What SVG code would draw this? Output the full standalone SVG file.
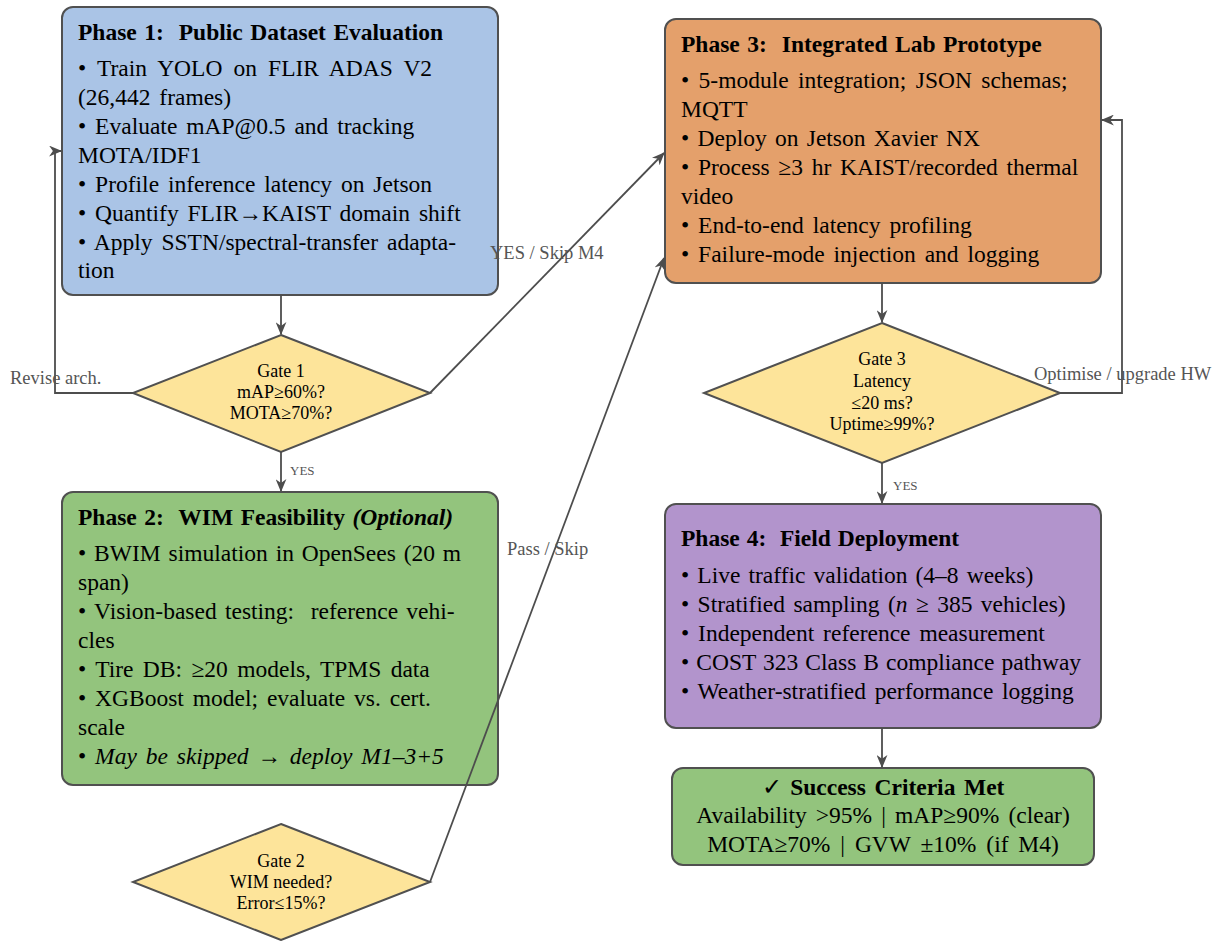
<svg xmlns="http://www.w3.org/2000/svg" width="1216" height="941" viewBox="0 0 1216 941">
<style>
.box{stroke:#505050;stroke-width:2}
.p1{fill:#aac4e6}.p2{fill:#93c47d}.p3{fill:#e4a06b}.p4{fill:#b294cc}.gate{fill:#fde49a;stroke:#505050;stroke-width:2}
text{font-family:"Liberation Serif","Times New Roman",serif;fill:#000}
.t{font-size:23.5px;font-weight:bold;word-spacing:1.6px}
.b{font-size:23.5px;word-spacing:3px}
.g{font-size:18px;text-anchor:middle}
.c{font-size:23.5px;text-anchor:middle;word-spacing:3.3px}
.lbl{font-size:18.5px;fill:#555}
.yes{font-size:13px;fill:#555}
.cn{fill:none;stroke:#4d4d4d;stroke-width:1.8}
</style>
<defs>
<marker id="ah" viewBox="0 0 12 10" refX="11" refY="5" markerWidth="13" markerHeight="11" markerUnits="userSpaceOnUse" orient="auto">
<path d="M0,0 L12,5 L0,10 L3.5,5 Z" fill="#4d4d4d"/>
</marker>
</defs>
<rect width="1216" height="941" fill="#fff"/>
<g id="phase1">
<rect class="box p1" x="62" y="7" width="436" height="288" rx="11"/>
<text class="t" x="78" y="40">Phase 1:&#160; Public Dataset Evaluation</text>
<text class="b" x="78" y="76" style="word-spacing:5.2px">• Train YOLO on FLIR ADAS V2</text>
<text class="b" x="78" y="105">(26,442 frames)</text>
<text class="b" x="78" y="134">• Evaluate mAP@0.5 and tracking</text>
<text class="b" x="78" y="163">MOTA/IDF1</text>
<text class="b" x="78" y="192">• Profile inference latency on Jetson</text>
<text class="b" x="78" y="221">• Quantify FLIR→KAIST domain shift</text>
<text class="b" x="78" y="250">• Apply SSTN/spectral-transfer adapta-</text>
<text class="b" x="78" y="278">tion</text>
</g>
<g id="gate1">
<polygon class="gate" points="281,335 430,393 281,452 133,393"/>
<text class="g" x="281" y="377">Gate 1</text>
<text class="g" x="281" y="398">mAP≥60%?</text>
<text class="g" x="281" y="419">MOTA≥70%?</text>
</g>
<g id="phase2">
<rect class="box p2" x="62" y="492" width="436" height="293" rx="11"/>
<text class="t" x="78" y="525">Phase 2:&#160; WIM Feasibility <tspan font-style="italic">(Optional)</tspan></text>
<text class="b" x="78" y="561" style="word-spacing:2px">• BWIM simulation in OpenSees (20 m</text>
<text class="b" x="78" y="590">span)</text>
<text class="b" x="78" y="619" style="word-spacing:2.4px">• Vision-based testing:&#160; reference vehi-</text>
<text class="b" x="78" y="648">cles</text>
<text class="b" x="78" y="677" style="word-spacing:3.5px">• Tire DB: ≥20 models, TPMS data</text>
<text class="b" x="78" y="706">• XGBoost model; evaluate vs. cert.</text>
<text class="b" x="78" y="735">scale</text>
<text class="b" x="78" y="764">• <tspan font-style="italic">May be skipped → deploy M1–3+5</tspan></text>
</g>
<g id="gate2">
<polygon class="gate" points="281,824 430,882 281,940 133,882"/>
<text class="g" x="281" y="867">Gate 2</text>
<text class="g" x="281" y="888">WIM needed?</text>
<text class="g" x="281" y="909">Error≤15%?</text>
</g>
<g id="phase3">
<rect class="box p3" x="665" y="19" width="436" height="264" rx="11"/>
<text class="t" x="681" y="52">Phase 3:&#160; Integrated Lab Prototype</text>
<text class="b" x="681" y="88" style="word-spacing:3.5px">• 5-module integration; JSON schemas;</text>
<text class="b" x="681" y="117">MQTT</text>
<text class="b" x="681" y="146" style="word-spacing:2.4px">• Deploy on Jetson Xavier NX</text>
<text class="b" x="681" y="175" style="word-spacing:2.8px">• Process ≥3 hr KAIST/recorded thermal</text>
<text class="b" x="681" y="204">video</text>
<text class="b" x="681" y="233">• End-to-end latency profiling</text>
<text class="b" x="681" y="262">• Failure-mode injection and logging</text>
</g>
<g id="gate3">
<polygon class="gate" points="882,323 1060,393 882,463 704,393"/>
<text class="g" x="882" y="365">Gate 3</text>
<text class="g" x="882" y="387">Latency</text>
<text class="g" x="882" y="409">≤20 ms?</text>
<text class="g" x="882" y="430">Uptime≥99%?</text>
</g>
<g id="phase4">
<rect class="box p4" x="665" y="504" width="436" height="224" rx="11"/>
<text class="t" x="681" y="546" style="word-spacing:1px">Phase 4:&#160; Field Deployment</text>
<text class="b" x="681" y="583" style="word-spacing:2.2px">• Live traffic validation (4–8 weeks)</text>
<text class="b" x="681" y="612" style="word-spacing:2.5px">• Stratified sampling (<tspan font-style="italic">n</tspan> ≥ 385 vehicles)</text>
<text class="b" x="681" y="641">• Independent reference measurement</text>
<text class="b" x="681" y="670" style="word-spacing:1.2px">• COST 323 Class B compliance pathway</text>
<text class="b" x="681" y="699" style="word-spacing:2.75px">• Weather-stratified performance logging</text>
</g>
<g id="success">
<rect class="box p2" x="672" y="768" width="422" height="97" rx="11"/>
<text class="c" x="883" y="795" style="word-spacing:2.7px"><tspan font-weight="normal">✓</tspan><tspan font-weight="bold"> Success Criteria Met</tspan></text>
<text class="c" x="883" y="823" style="word-spacing:3.2px">Availability &gt;95% | mAP≥90% (clear)</text>
<text class="c" x="883" y="852" style="word-spacing:4px">MOTA≥70% | GVW ±10% (if M4)</text>
</g>
<g id="connectors">
<path class="cn" d="M281,295 V334" marker-end="url(#ah)"/>
<path class="cn" d="M281,452 V491" marker-end="url(#ah)"/>
<path class="cn" d="M133,393 H55 V151 H61" marker-end="url(#ah)"/>
<path class="cn" d="M430,393 L664,153" marker-end="url(#ah)"/>
<path class="cn" d="M430,882 L664,258" marker-end="url(#ah)"/>
<path class="cn" d="M882,283 V322" marker-end="url(#ah)"/>
<path class="cn" d="M1060,393 H1122 V120 H1102" marker-end="url(#ah)"/>
<path class="cn" d="M882,463 V503" marker-end="url(#ah)"/>
<path class="cn" d="M882,728 V767" marker-end="url(#ah)"/>
<text class="lbl" x="10" y="384">Revise arch.</text>
<text class="lbl" x="490" y="259">YES / Skip M4</text>
<text class="lbl" x="507" y="555">Pass / Skip</text>
<text class="lbl" x="1034" y="380">Optimise / upgrade HW</text>
<text class="yes" x="290" y="475">YES</text>
<text class="yes" x="893" y="490">YES</text>
</g>
</svg>
